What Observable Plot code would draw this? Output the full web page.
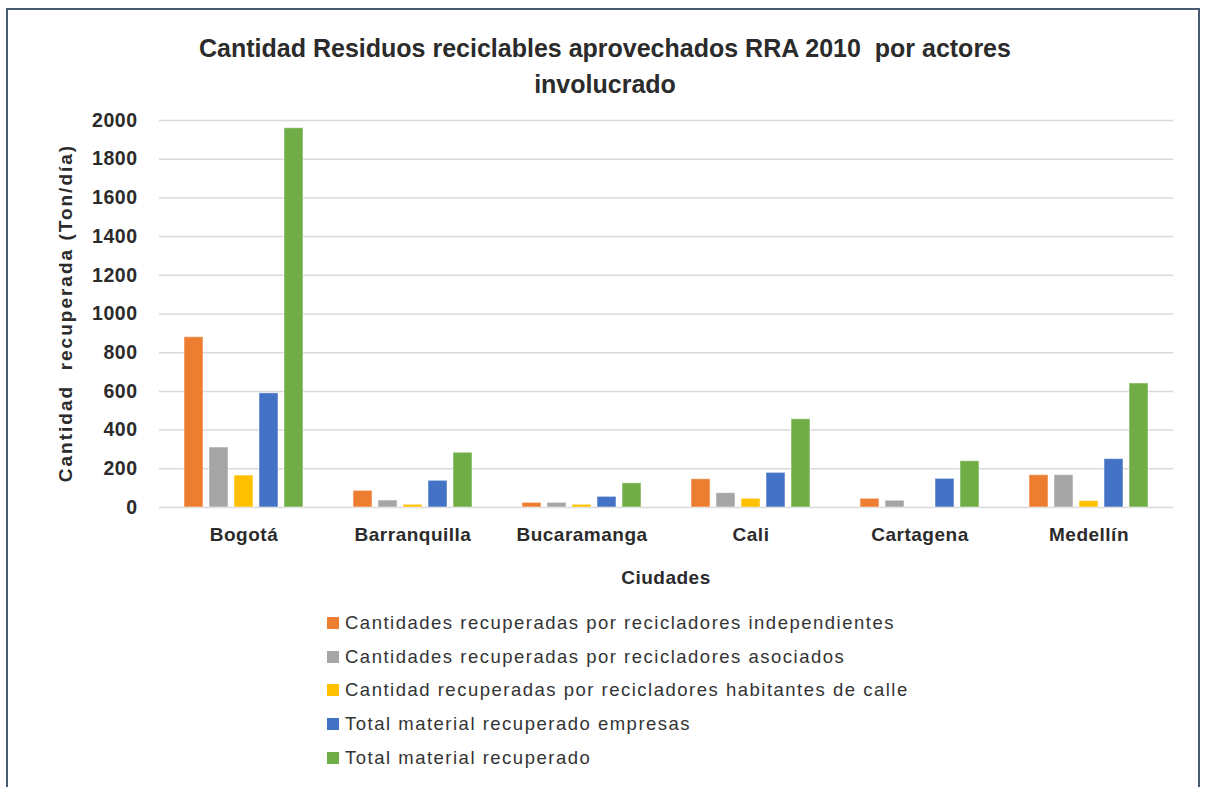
<!DOCTYPE html>
<html>
<head>
<meta charset="utf-8">
<script src="https://cdn.jsdelivr.net/npm/d3@7"></script>
<script src="https://cdn.jsdelivr.net/npm/@observablehq/plot@0.6"></script>
<style>
  html, body { margin: 0; padding: 0; background: #fff; }
  #wrap { position: relative; width: 1206px; height: 787px; overflow: hidden; background: #fff; }
  #frame { position: absolute; left: 6px; top: 8px; width: 1194px; height: 800px; border: 2px solid #4a5a70; box-sizing: border-box; }
  #title { position: absolute; left: 0; top: 30px; width: 1210px; text-align: center; white-space: pre-wrap;
           font-family: "Liberation Sans", sans-serif; font-weight: bold; font-size: 25px; line-height: 36px; color: #2b2b2b; }
  #chart { position: absolute; left: 0; top: 100px; }
  #ylabel { position: absolute; left: 66px; top: 313px; transform: translate(-50%, -50%) rotate(-90deg); white-space: pre;
            font-family: "Liberation Sans", sans-serif; font-weight: bold; font-size: 19px; letter-spacing: 2px; color: #2b2b2b; }
  #xlabel { position: absolute; left: 666px; top: 578px; transform: translate(-50%, -50%);
            font-family: "Liberation Sans", sans-serif; font-weight: bold; font-size: 19px; letter-spacing: 0.5px; color: #2b2b2b; }
  #legend { position: absolute; left: 327px; top: 606px; font-family: "Liberation Sans", sans-serif; font-size: 18.5px; letter-spacing: 1.5px; color: #333; }
  .row { height: 33.7px; display: flex; align-items: center; }
  .sw { width: 12px; height: 12px; margin-right: 6px; flex: none; }
</style>
</head>
<body>
<div id="wrap">
  <div id="frame"></div>
  <div id="title"></div>
  <div id="chart"></div>
  <div id="ylabel"></div>
  <div id="xlabel"></div>
  <div id="legend"></div>
</div>
<script>
const titleText = "Cantidad Residuos reciclables aprovechados RRA 2010  por actores\ninvolucrado";
const yLabel = "Cantidad  recuperada (Ton/día)";
const xLabel = "Ciudades";
const cities = ["Bogotá", "Barranquilla", "Bucaramanga", "Cali", "Cartagena", "Medellín"];
const series = [
  "Cantidades recuperadas por recicladores independientes",
  "Cantidades recuperadas por recicladores asociados",
  "Cantidad recuperadas por recicladores habitantes de calle",
  "Total material recuperado empresas",
  "Total material recuperado"
];
const colors = ["#ed7d31", "#a5a5a5", "#ffc000", "#4472c4", "#70ad47"];
const independientes = [880, 86, 24, 146, 45, 167];
const asociados = [310, 36, 24, 74, 35, 167];
const habitantesCalle = [165, 14, 14, 45, 0, 33];
const empresas = [590, 138, 55, 179, 148, 250];
const total = [1960, 283, 125, 456, 239, 641];
const yTicks = [0, 200, 400, 600, 800, 1000, 1200, 1400, 1600, 1800, 2000];

const seriesValues = [independientes, asociados, habitantesCalle, empresas, total];
const data = [];
cities.forEach((c, i) => series.forEach((s, j) => data.push({city: c, series: s, value: seriesValues[j][i]})));

document.getElementById("title").textContent = titleText;
document.getElementById("ylabel").textContent = yLabel;
document.getElementById("xlabel").textContent = xLabel;

const legend = document.getElementById("legend");
series.forEach((s, j) => {
  const row = document.createElement("div"); row.className = "row";
  const sw = document.createElement("div"); sw.className = "sw"; sw.style.background = colors[j];
  const t = document.createElement("span"); t.textContent = s;
  row.appendChild(sw); row.appendChild(t); legend.appendChild(row);
});

const chart = Plot.plot({
  width: 1206,
  height: 460,
  marginLeft: 158,
  marginRight: 32,
  marginTop: 20,
  marginBottom: 53,
  style: {fontFamily: "Liberation Sans, sans-serif", background: "transparent", letterSpacing: "0.5px"},
  fx: {domain: cities, paddingInner: 0, paddingOuter: 0, label: null},
  x: {domain: series, paddingInner: 0.23, paddingOuter: 0.875, axis: null},
  y: {domain: [0, 2000], label: null},
  color: {domain: series, range: colors},
  marks: [
    Plot.gridY(yTicks, {stroke: "#d9d9d9", strokeOpacity: 1, strokeWidth: 1.5}),
    Plot.barY(data, {fx: "city", x: "series", y: "value", fill: "series", stroke: "#fff", strokeOpacity: 0.5, strokeWidth: 1}),
    Plot.axisY(yTicks, {tickSize: 0, tickPadding: 22, fontSize: 19.5, fontWeight: "bold", fill: "#2b2b2b", label: null, tickFormat: d => String(d)}),
    Plot.axisFx({anchor: "bottom", tickSize: 0, tickPadding: 20, fontSize: 19, fontWeight: "bold", fill: "#2b2b2b", label: null})
  ]
});
document.getElementById("chart").appendChild(chart);
</script>
</body>
</html>
